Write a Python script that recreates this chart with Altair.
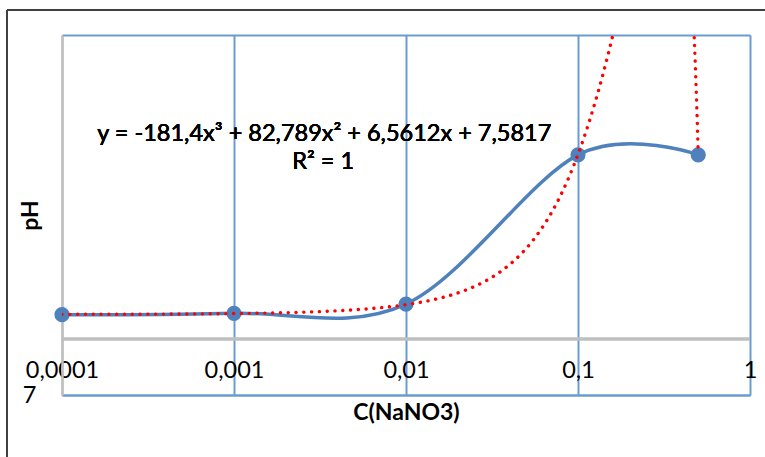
import altair as alt
import pandas as pd

# Measured pH against NaNO3 concentration
concentration = [0.0001, 0.001, 0.01, 0.1, 0.5]
ph_values = [7.58, 7.59, 7.66, 8.88, 8.88]

# Cubic trendline coefficients (x^3, x^2, x, const)
trend_coefs = [-181.4, 82.789, 6.5612, 7.5817]
r_squared = 1

x_ticks = [0.0001, 0.001, 0.01, 0.1, 1]
y_ticks = [7, 10]

SERIES_BLUE = "#4F81BD"
GRID_BLUE = "#6A9BD3"
AXIS_GRAY = "#BFBFBF"
FONT = "Lato"


def dec(v):
    return str(v).replace(".", ",")


equation = (
    f"y = {dec(trend_coefs[0])}x³ + {dec(trend_coefs[1])}x² + "
    f"{dec(trend_coefs[2])}x + {dec(trend_coefs[3])}"
)
r2_text = f"R² = {r_squared}"

df = pd.DataFrame({"conc": concentration, "ph": ph_values})

x_scale = alt.Scale(type="log", domain=[0.0001, 1], nice=False)
y_scale = alt.Scale(type="log", domain=[7, 10], nice=False, zero=False)

x_enc = alt.X(
    "conc:Q",
    scale=x_scale,
    title="C(NaNO3)",
    axis=alt.Axis(
        values=x_ticks,
        labelExpr="replace(toString(datum.value), '.', ',')",
        grid=True,
        gridColor={"condition": {"test": "datum.value < 0.0005", "value": AXIS_GRAY},
                   "value": GRID_BLUE},
        gridWidth=2,
        domainColor=GRID_BLUE,
        domainWidth=2,
        ticks=False,
        labelFlush=False,
        labelOverlap=False,
        labelBound=False,
        labelPadding=-25,
        labelBaseline="middle",
        labelFont=FONT,
        labelFontSize=23.5,
        labelFontWeight="normal",
        labelColor="#000000",
        titleFont=FONT,
        titleFontSize=23,
        titleFontWeight="bold",
        titleColor="#000000",
        titleBaseline="middle",
        titleY=17,
    ),
)

y_enc = alt.Y(
    "ph:Q",
    scale=y_scale,
    title="pH",
    axis=alt.Axis(
        values=y_ticks,
        labelExpr="datum.value == 7 ? '7' : ''",
        grid=True,
        gridColor=GRID_BLUE,
        gridWidth=2,
        domainColor=AXIS_GRAY,
        domainWidth=2.5,
        ticks=False,
        labelPadding=26,
        labelBaseline="middle",
        labelFont=FONT,
        labelFontSize=23.5,
        labelFontWeight="normal",
        labelColor="#000000",
        titleFont=FONT,
        titleFontSize=23,
        titleFontWeight="bold",
        titleColor="#000000",
        titleAngle=-90,
        titleBaseline="middle",
        titleAlign="center",
        titleX=-32,
        titleY=180,
    ),
)

# Horizontal axis line crossing the value axis
cross_line = alt.Chart(df).mark_rule(color=AXIS_GRAY, strokeWidth=2.5).encode(
    y=alt.datum(7.4)
)

series_line = alt.Chart(df).mark_line(
    interpolate="cardinal", color=SERIES_BLUE, strokeWidth=3.5
).encode(x=x_enc, y=y_enc)

series_points = alt.Chart(df).mark_circle(
    size=230, color=SERIES_BLUE, opacity=1
).encode(x=x_enc, y=y_enc)

# Polynomial trendline evaluated along the concentration range
trend_expr = (
    f"({trend_coefs[0]})*pow(datum.conc,3) + ({trend_coefs[1]})*pow(datum.conc,2)"
    f" + ({trend_coefs[2]})*datum.conc + ({trend_coefs[3]})"
)
trend_line = (
    alt.Chart(alt.sequence(-4, -0.295, 0.002, as_="e"))
    .transform_calculate(conc="min(pow(10, datum.e), 0.5)")
    .transform_calculate(ph=trend_expr)
    .mark_line(
        clip=True,
        color="#FF0000",
        strokeWidth=3.4,
        strokeCap="round",
        strokeDash=[0.1, 7.7],
    )
    .encode(x=x_enc, y=y_enc)
)

eq_label = alt.Chart(df).mark_text(
    font=FONT, fontSize=23.5, fontWeight="normal", color="#000000",
    align="center", baseline="middle"
).encode(x=alt.datum(0.00335), y=alt.datum(9.064), text=alt.value(equation))

r2_label = alt.Chart(df).mark_text(
    font=FONT, fontSize=23.5, fontWeight="normal", color="#000000",
    align="center", baseline="middle"
).encode(x=alt.datum(0.0033), y=alt.datum(8.814), text=alt.value(r2_text))

# Chart-area frame
frame_top = alt.Chart(df).mark_rule(color="#404040", strokeWidth=2).encode(
    x=alt.value(-55), x2=alt.value(720), y=alt.value(-25)
)
frame_left = alt.Chart(df).mark_rule(color="#404040", strokeWidth=2).encode(
    x=alt.value(-55), y=alt.value(-25), y2=alt.value(430)
)

chart = (
    alt.layer(
        cross_line,
        series_line,
        series_points,
        trend_line,
        eq_label,
        r2_label,
        frame_top,
        frame_left,
    )
    .properties(
        width=688,
        height=360,
        autosize="none",
        padding={"left": 62, "top": 35, "right": 15, "bottom": 62},
        background="#FFFFFF",
    )
    .configure_view(stroke=None)
    .configure(font=FONT)
)

chart.save("out.html", embed_options={"renderer": "svg", "actions": False})
